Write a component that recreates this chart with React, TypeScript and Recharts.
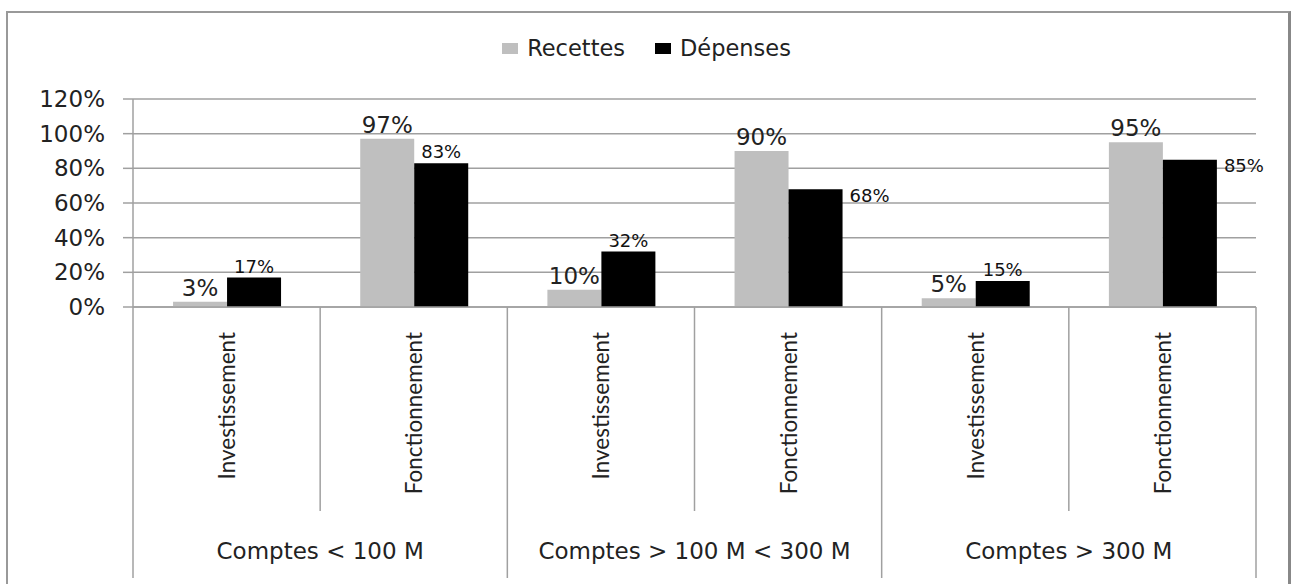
import React from "react";
import { BarChart, Bar, XAxis, YAxis, CartesianGrid, LabelList } from "recharts";

const categories = [
  "Investissement",
  "Fonctionnement",
  "Investissement",
  "Fonctionnement",
  "Investissement",
  "Fonctionnement",
];
const groups = ["Comptes < 100 M", "Comptes > 100 M < 300 M", "Comptes > 300 M"];
const recettes = [3, 97, 10, 90, 5, 95];
const depenses = [17, 83, 32, 68, 15, 85];
const yTicks = [0, 20, 40, 60, 80, 100, 120];

// where the Dépenses labels sit (Excel put two of them beside the bar)
const depensesLabelSide = ["top", "top", "top", "right", "top", "right"];

const W = 1293;
const H = 584;
const PLOT_LEFT = 133;
const PLOT_RIGHT = 1256;
const PLOT_TOP = 99;
const PLOT_BOTTOM = 307;
const BAND = (PLOT_RIGHT - PLOT_LEFT) / categories.length;
const LINE = "#a0a0a0";
const SANS = "'DejaVu Sans', sans-serif";

const data = categories.map((c, i) => ({
  category: c,
  group: groups[Math.floor(i / 2)],
  recettes: recettes[i],
  depenses: depenses[i],
}));

const series = [
  { key: "recettes", name: "Recettes", color: "#bfbfbf" },
  { key: "depenses", name: "Dépenses", color: "#000000" },
];

function CategoryTick(props: any) {
  const { x, y, index, payload } = props;
  const left = x - BAND / 2;
  const groupStart = index % 2 === 0;
  const isLast = index === categories.length - 1;
  return (
    <g>
      <line x1={left} x2={left} y1={y} y2={y + (groupStart ? 271 : 204)} stroke={LINE} strokeWidth={1.5} />
      {isLast && (
        <line x1={x + BAND / 2} x2={x + BAND / 2} y1={y} y2={y + 271} stroke={LINE} strokeWidth={1.5} />
      )}
      <text
        transform={`translate(${x},${y + 25}) rotate(-90)`}
        textAnchor="end"
        dominantBaseline="central"
        fontFamily="Lato, sans-serif"
        fontSize={22.5}
        fill="#222"
      >
        {payload.value}
      </text>
      {groupStart && (
        <text
          x={x + BAND / 2}
          y={y + 244}
          textAnchor="middle"
          dominantBaseline="central"
          fontFamily={SANS}
          fontSize={23}
          fill="#222"
        >
          {data[index].group}
        </text>
      )}
    </g>
  );
}

function RecettesLabel(props: any) {
  const { x, y, width, value } = props;
  return (
    <text x={x + width / 2} y={y - 6} textAnchor="middle" fontFamily={SANS} fontSize={23} fill="#222">
      {value}%
    </text>
  );
}

function DepensesLabel(props: any) {
  const { x, y, width, value, index } = props;
  if (depensesLabelSide[index] === "right") {
    return (
      <text
        x={x + width + 7}
        y={y + 6}
        textAnchor="start"
        dominantBaseline="central"
        fontFamily={SANS}
        fontSize={18}
        fill="#111"
      >
        {value}%
      </text>
    );
  }
  return (
    <text x={x + width / 2} y={y - 5} textAnchor="middle" fontFamily={SANS} fontSize={18} fill="#111">
      {value}%
    </text>
  );
}

export default function App() {
  return (
    <div style={{ position: "absolute", left: 0, top: 0, width: W, height: H, overflow: "hidden", background: "#fff" }}>
      <div
        style={{
          position: "absolute",
          left: 6,
          top: 11,
          width: 1280,
          height: 600,
          borderTop: "2px solid #999",
          borderLeft: "2px solid #999",
          borderRight: "3px solid #888",
        }}
      />
      <div
        style={{
          position: "absolute",
          left: 0,
          top: 34,
          width: W,
          display: "flex",
          justifyContent: "center",
          alignItems: "center",
          fontFamily: SANS,
          fontSize: 22.5,
          color: "#222",
          lineHeight: "28px",
        }}
      >
        {series.map((s, i) => (
          <div key={s.key} style={{ display: "flex", alignItems: "center", marginLeft: i === 0 ? 0 : 30 }}>
            <span style={{ display: "inline-block", width: 16, height: 11, background: s.color, marginRight: 9 }} />
            <span>{s.name}</span>
          </div>
        ))}
      </div>
      <div style={{ position: "absolute", left: 0, top: 0 }}>
        <BarChart
          width={W}
          height={H}
          data={data}
          margin={{ top: PLOT_TOP, right: W - PLOT_RIGHT, bottom: 7, left: 73 }}
          barCategoryGap="21.4%"
          barGap={0}
        >
          <CartesianGrid horizontal vertical={false} stroke={LINE} strokeWidth={1.5} />
          <XAxis
            dataKey="category"
            height={H - PLOT_BOTTOM - 7}
            interval={0}
            tickSize={0}
            tickMargin={0}
            tickLine={false}
            axisLine={{ stroke: LINE, strokeWidth: 1.5 }}
            tick={<CategoryTick />}
          />
          <YAxis
            width={60}
            domain={[0, 120]}
            ticks={yTicks}
            interval={0}
            tickFormatter={(v: number) => `${v}%`}
            tickSize={10}
            tickMargin={18}
            tickLine={{ stroke: LINE, strokeWidth: 1.5 }}
            axisLine={{ stroke: LINE, strokeWidth: 1.5 }}
            tick={{ fill: "#222", fontSize: 23, fontFamily: SANS }}
          />
          <Bar dataKey="recettes" name="Recettes" fill="#bfbfbf" isAnimationActive={false}>
            <LabelList dataKey="recettes" content={<RecettesLabel />} />
          </Bar>
          <Bar dataKey="depenses" name="Dépenses" fill="#000000" isAnimationActive={false}>
            <LabelList dataKey="depenses" content={<DepensesLabel />} />
          </Bar>
        </BarChart>
      </div>
    </div>
  );
}
